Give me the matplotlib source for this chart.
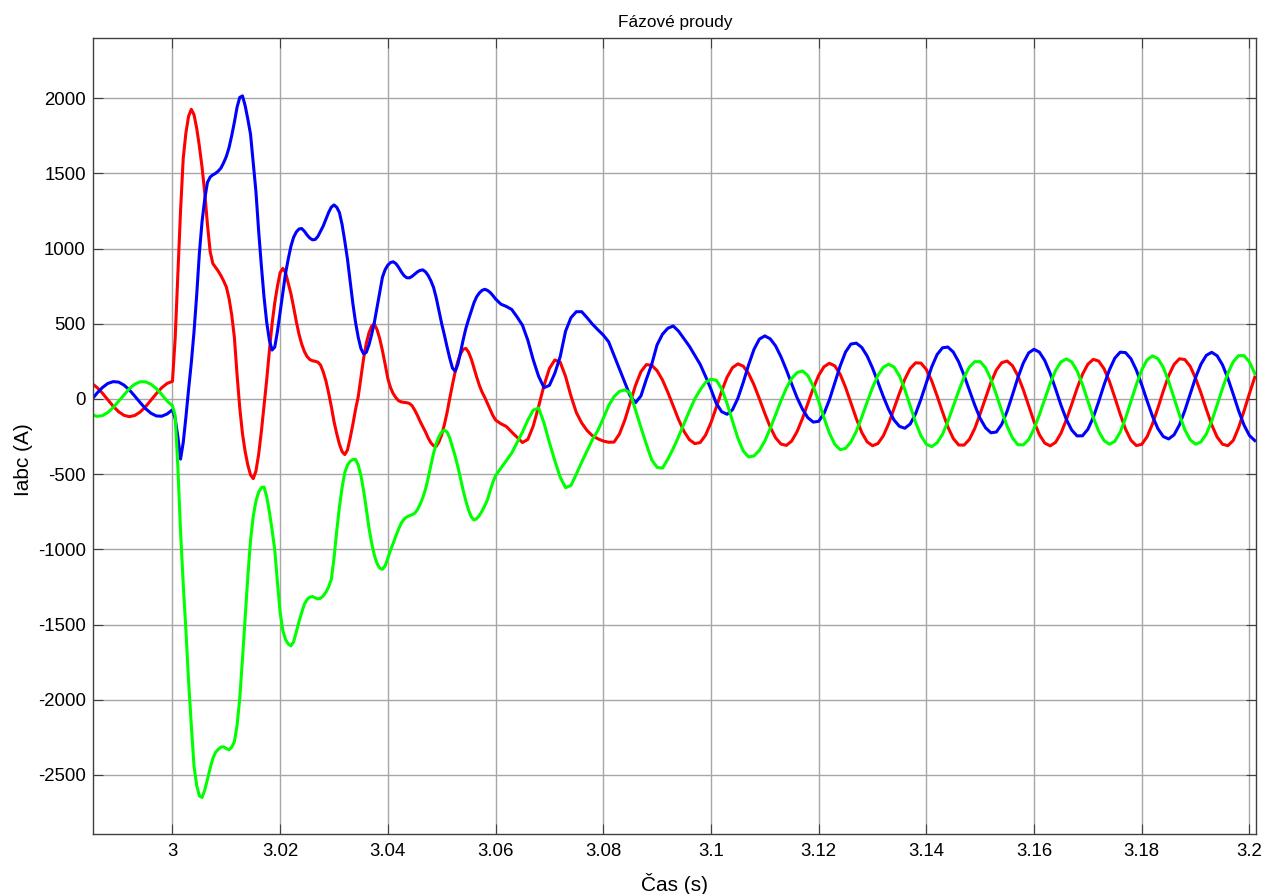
import numpy as np
import matplotlib
matplotlib.use('Agg')
import matplotlib.pyplot as plt

# sample times: 1 ms before the fault, 0.5 ms during 3.000-3.060 s, 1 ms after
t = np.round(np.concatenate([3.0 + np.arange(-15, 0) * 0.001,
                             3.0 + np.arange(0, 120) * 0.0005,
                             3.0 + np.arange(60, 202) * 0.001]), 4)

ia = [104, 76, 38, -6, -49, -85, -109, -118, -110, -87, -52, -9, 35, 74, 103,
      # 3.000 - 3.0595 (0.5 ms)
      117, 400, 830, 1250, 1600, 1770, 1880, 1926, 1890, 1800,
      1680, 1540, 1370, 1160, 980, 900, 875, 850, 820, 785,
      745, 670, 560, 410, 160, -60, -230, -350, -440, -505,
      -530, -480, -370, -220, -50, 126, 320, 500, 640, 750,
      840, 868, 840, 770, 700, 610, 515, 430, 365, 315,
      282, 262, 254, 250, 245, 225, 180, 120, 40, -50,
      -150, -230, -300, -350, -370, -340, -260, -170, -70, 15,
      140, 270, 370, 440, 485, 497, 460, 400, 320, 230,
      135, 75, 35, 8, -12, -20, -23, -25, -30, -45,
      -75, -110, -150, -185, -220, -260, -292, -312, -315, -285,
      -238, -170, -90, 5, 95, 180, 250, 300, 330, 336,
      310, 265, 205, 145, 90, 45, 10, -30, -70, -110,
      # 3.060 - 3.201 (1 ms)
      -140,
      -165, -183, -220, -255, -290, -269, -180, -50, 90, 202,
      259, 245, 150, 20, -90, -160, -210, -245, -265, -280,
      -288, -287, -234, -142, -25, 91, 181, 228, 224, 188,
      126, 44, -48, -138, -216, -271, -297, -290, -241, -158,
      -55, 52, 145, 208, 233, 218, 169, 93, 1, -96,
      -186, -258, -300, -309, -280, -217, -130, -29, 71, 156,
      214, 237, 220, 164, 77, -26, -131, -222, -285, -311,
      -297, -246, -165, -65, 37, 131, 202, 240, 238, 196,
      120, 20, -86, -186, -263, -306, -307, -269, -196, -98,
      7, 110, 192, 241, 252, 221, 154, 62, -45, -151,
      -238, -294, -312, -289, -228, -139, -36, 71, 164, 231,
      263, 252, 201, 117, 10, -101, -201, -275, -310, -302,
      -251, -166, -61, 52, 154, 229, 267, 262, 217, 138,
      40, -69, -172, -253, -301, -311, -276, -190, -80, 35, 145]

ib = [-5, 39, 76, 103, 115, 112, 92, 60, 19, -24, -64, -95, -113, -115, -100,
      -72, -130, -250, -400, -290, -120, 65, 240, 445, 690,
      970, 1180, 1330, 1440, 1475, 1490, 1500, 1515, 1535, 1570,
      1612, 1670, 1750, 1840, 1940, 2005, 2015, 1950, 1860, 1760,
      1570, 1380, 1120, 890, 680, 510, 390, 325, 345, 450,
      580, 710, 835, 930, 1015, 1075, 1110, 1130, 1133, 1115,
      1090, 1070, 1058, 1060, 1080, 1115, 1150, 1195, 1240, 1275,
      1290, 1275, 1240, 1160, 1050, 930, 780, 635, 510, 410,
      335, 300, 310, 360, 430, 510, 610, 710, 810, 860,
      890, 907, 912, 900, 875, 845, 820, 806, 805, 815,
      830, 845, 855, 858, 845, 820, 785, 740, 670, 585,
      500, 425, 345, 270, 205, 185, 230, 310, 395, 470,
      530, 585, 640, 680, 705, 722, 729, 722, 708, 688,
      665,
      630, 615, 595, 545, 490, 390, 260, 150, 75, 90,
      170, 280, 450, 540, 580, 580, 540, 497, 460, 425,
      380, 290, 200, 110, 20, -25, 20, 130, 230, 360,
      430, 470, 485, 450, 400, 350, 290, 230, 150, 65,
      -30, -85, -102, -72, 4, 110, 227, 330, 398, 419,
      400, 353, 281, 194, 99, 8, -68, -125, -154, -149,
      -97, -6, 106, 219, 312, 365, 371, 343, 286, 206,
      113, 17, -70, -140, -182, -195, -167, -99, -2, 107,
      213, 295, 340, 345, 312, 247, 158, 58, -42, -130,
      -192, -225, -220, -169, -82, 27, 141, 238, 306, 330,
      311, 255, 170, 67, -41, -136, -207, -246, -245, -202,
      -123, -19, 93, 193, 271, 311, 308, 267, 192, 94,
      -13, -115, -197, -250, -266, -239, -173, -78, 33, 142,
      231, 290, 310, 287, 227, 137, 31, -79, -174, -243, -277]

ic = [-105, -116, -111, -90, -57, -15, 28, 68, 98, 114, 114, 98, 69, 30, -14,
      -45, -110, -450, -880, -1230, -1540, -1880, -2170, -2440, -2570,
      -2640, -2650, -2600, -2530, -2455, -2390, -2350, -2330, -2315, -2313,
      -2325, -2333, -2315, -2280, -2170, -1990, -1730, -1450, -1180, -940,
      -780, -680, -620, -590, -585, -650, -750, -870, -1005, -1220,
      -1420, -1540, -1600, -1630, -1642, -1615, -1550, -1480, -1420, -1365,
      -1333, -1318, -1314, -1322, -1330, -1325, -1310, -1285, -1250, -1200,
      -1060, -880, -720, -590, -490, -440, -415, -403, -402, -440,
      -510, -610, -730, -860, -960, -1040, -1095, -1125, -1133, -1110,
      -1060, -1005, -960, -910, -865, -825, -800, -785, -776, -770,
      -760, -735, -700, -655, -600, -525, -440, -360, -295, -250,
      -220, -207, -220, -260, -320, -380, -450, -530, -610, -680,
      -740, -785, -805, -795, -775, -745, -710, -670, -610, -555,
      -510,
      -460, -410, -360, -290, -220, -140, -75, -60, -160, -290,
      -410, -520, -590, -575, -500, -420, -345, -270, -210, -130,
      -45, 15, 50, 60, 40, -75, -190, -300, -405, -455,
      -460, -400, -330, -250, -165, -80, 0, 60, 110, 131,
      124, 67, -31, -147, -260, -346, -386, -379, -342, -280,
      -197, -106, -12, 71, 136, 175, 186, 155, 84, -15,
      -126, -227, -302, -337, -329, -286, -215, -122, -22, 75,
      155, 210, 231, 212, 154, 63, -46, -155, -245, -301,
      -317, -292, -235, -150, -50, 52, 144, 212, 248, 248,
      207, 130, 29, -80, -182, -260, -304, -306, -270, -199,
      -105, 0, 103, 189, 246, 266, 246, 186, 95, -13,
      -122, -214, -277, -301, -282, -221, -128, -17, 95, 193,
      260, 286, 268, 210, 118, 7, -105, -204, -272, -301,
      -286, -233, -147, -41, 70, 171, 247, 288, 288, 246, 169]

xticks = [3.0, 3.02, 3.04, 3.06, 3.08, 3.1, 3.12, 3.14, 3.16, 3.18, 3.2]
xticklabels = ['3', '3.02', '3.04', '3.06', '3.08', '3.1', '3.12', '3.14', '3.16', '3.18', '3.2']
yticks = [-2500, -2000, -1500, -1000, -500, 0, 500, 1000, 1500, 2000]

plt.rcParams['font.family'] = ['Liberation Sans', 'DejaVu Sans']
plt.rcParams['axes.unicode_minus'] = False

fig = plt.figure(figsize=(12.63, 8.94), dpi=100)
ax = fig.add_axes([0.0740, 0.0666, 0.9204, 0.8909])

ax.plot(t, ia, color='#ff0000', lw=2.2)
ax.plot(t, ib, color='#0000ff', lw=2.2)
ax.plot(t, ic, color='#00ff00', lw=2.2)

ax.set_xlim(2.98533, 3.20121)
ax.set_ylim(-2896, 2400)
ax.set_xticks(xticks)
ax.set_xticklabels(xticklabels)
ax.set_yticks(yticks)
ax.set_axisbelow(True)
ax.grid(True, color='#a6a6a6', lw=1.0)
ax.tick_params(direction='in', length=7, width=0.8, top=True, right=True,
               labelsize=13.4, color='#404040')
ax.tick_params(axis='x', pad=6.5)
ax.tick_params(axis='y', pad=5.5)
for s in ax.spines.values():
    s.set_color('#404040')
    s.set_linewidth(1.0)

ax.set_title('Fázové proudy', fontsize=12.4, pad=8)
ax.set_xlabel('Čas (s)', fontsize=15, labelpad=9)
ax.set_ylabel('Iabc (A)', fontsize=15)
ax.yaxis.set_label_coords(-0.052, 0.47)

fig.savefig('out.png', dpi=100)
